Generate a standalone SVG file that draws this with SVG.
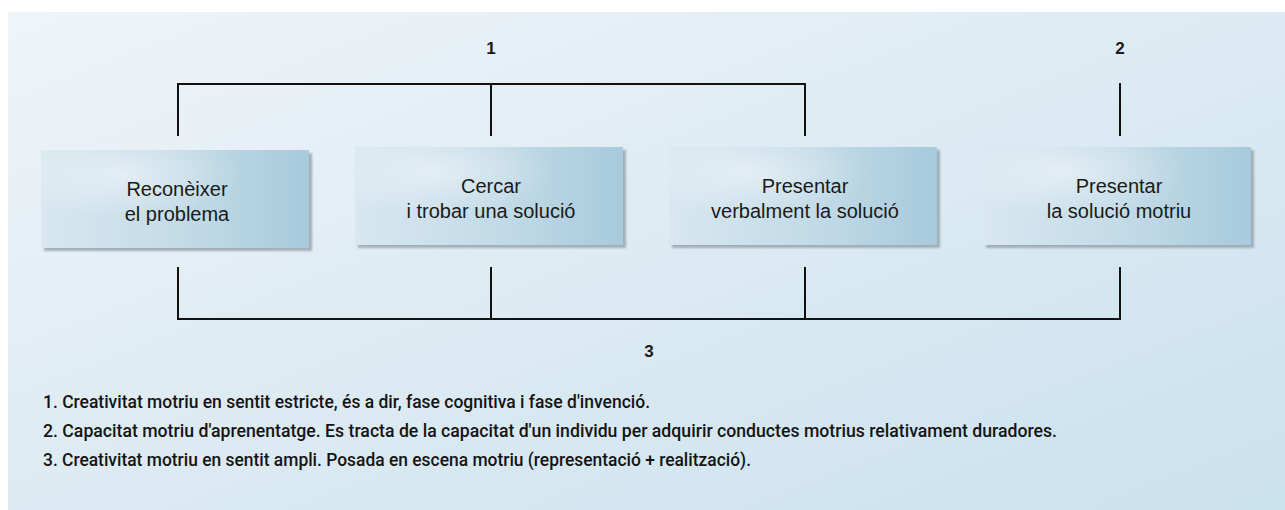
<svg xmlns="http://www.w3.org/2000/svg" width="1285" height="510" viewBox="0 0 1285 510">
  <defs>
    <linearGradient id="bg" x1="0" y1="0" x2="1" y2="1">
      <stop offset="0" stop-color="#eff4f8"/>
      <stop offset="1" stop-color="#cae1ee"/>
    </linearGradient>
    <linearGradient id="boxg" x1="0" y1="0" x2="1" y2="0">
      <stop offset="0" stop-color="#d8e7f0"/>
      <stop offset="0.55" stop-color="#c2dae7"/>
      <stop offset="1" stop-color="#a7cadc"/>
    </linearGradient>
    <radialGradient id="hl" cx="0.3" cy="0.25" r="0.45" gradientUnits="objectBoundingBox">
      <stop offset="0" stop-color="#ffffff" stop-opacity="0.45"/>
      <stop offset="1" stop-color="#ffffff" stop-opacity="0"/>
    </radialGradient>
    <filter id="sh" x="-5%" y="-5%" width="115%" height="120%">
      <feGaussianBlur stdDeviation="1.2"/>
    </filter>
  </defs>
  <style>
    .box { fill: url(#boxg); }
    .hl { fill: url(#hl); }
    .shadow { fill: #8f9aa3; opacity: 0.75; filter: url(#sh); }
    .lbl { font-family: "Liberation Sans", Arial, sans-serif; font-size: 20px; fill: #1a1a1a; text-anchor: middle; }
    .num { font-family: "Liberation Sans", Arial, sans-serif; font-size: 17px; font-weight: bold; fill: #1a1a1a; text-anchor: middle; }
    .note { font-family: "Roboto", "Liberation Sans", sans-serif; font-size: 18px; font-weight: 500; fill: #141414; }
    .conn { stroke: #111111; stroke-width: 2; fill: none; stroke-linecap: square; }
  </style>

  <rect x="8" y="12" width="1277" height="498" fill="url(#bg)"/>

  <g id="connectors">
    <path class="conn" d="M178 135 V84 H805 V135 M491 84 V135"/>
    <path class="conn" d="M1120 84 V135"/>
    <path class="conn" d="M178 268 V319 H1120 V268 M491 268 V319 M805 268 V319"/>
  </g>

  <g id="label1"><text class="num" x="491" y="54">1</text></g>
  <g id="label2"><text class="num" x="1120" y="54">2</text></g>
  <g id="label3"><text class="num" x="649" y="357">3</text></g>

  <g id="node1">
    <rect class="shadow" x="44" y="153" width="268" height="98"/>
    <rect class="box" x="41" y="150" width="268" height="98"/>
    <rect class="hl" x="41" y="150" width="268" height="98"/>
    <text class="lbl" x="177" y="196">Reconèixer</text>
    <text class="lbl" x="177" y="221">el problema</text>
  </g>
  <g id="node2">
    <rect class="shadow" x="358" y="150" width="268" height="98"/>
    <rect class="box" x="355" y="147" width="268" height="98"/>
    <rect class="hl" x="355" y="147" width="268" height="98"/>
    <text class="lbl" x="491" y="193">Cercar</text>
    <text class="lbl" x="491" y="218">i trobar una solució</text>
  </g>
  <g id="node3">
    <rect class="shadow" x="672" y="150" width="268" height="98"/>
    <rect class="box" x="669" y="147" width="268" height="98"/>
    <rect class="hl" x="669" y="147" width="268" height="98"/>
    <text class="lbl" x="805" y="193">Presentar</text>
    <text class="lbl" x="805" y="218">verbalment la solució</text>
  </g>
  <g id="node4">
    <rect class="shadow" x="986" y="150" width="268" height="98"/>
    <rect class="box" x="983" y="147" width="268" height="98"/>
    <rect class="hl" x="983" y="147" width="268" height="98"/>
    <text class="lbl" x="1119" y="193">Presentar</text>
    <text class="lbl" x="1119" y="218">la solució motriu</text>
  </g>

  <g id="notes">
    <text class="note" x="43" y="408" textLength="607" lengthAdjust="spacingAndGlyphs">1. Creativitat motriu en sentit estricte, és a dir, fase cognitiva i fase d'invenció.</text>
    <text class="note" x="43" y="437" textLength="1014" lengthAdjust="spacingAndGlyphs">2. Capacitat motriu d'aprenentatge. Es tracta de la capacitat d'un individu per adquirir conductes motrius relativament duradores.</text>
    <text class="note" x="43" y="466" textLength="708" lengthAdjust="spacingAndGlyphs">3. Creativitat motriu en sentit ampli. Posada en escena motriu (representació + realització).</text>
  </g>
</svg>
